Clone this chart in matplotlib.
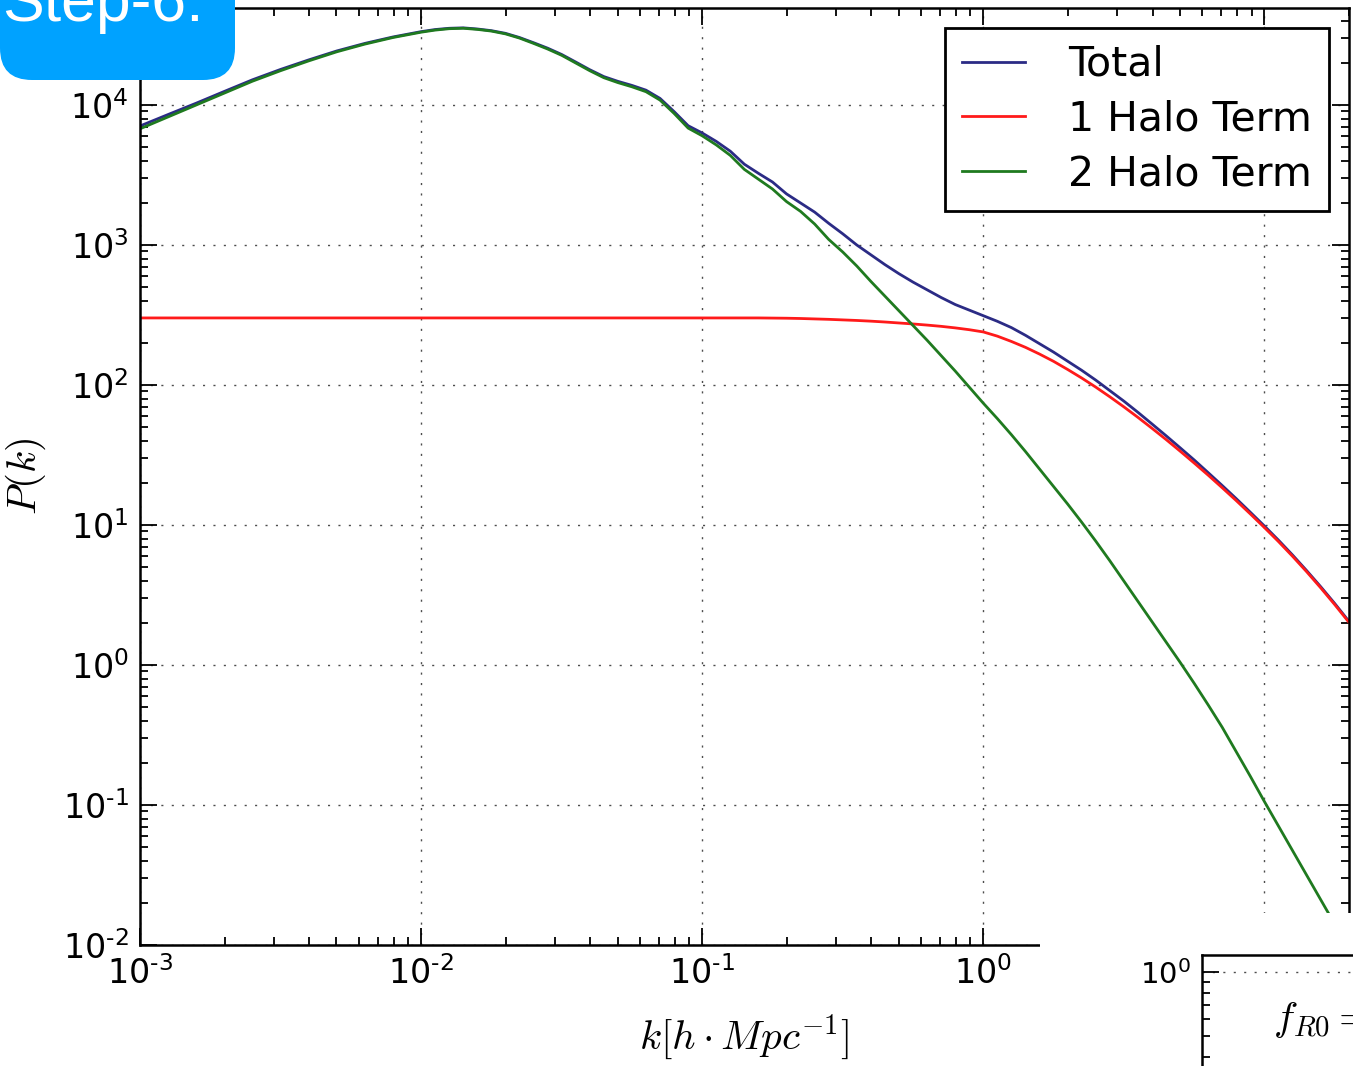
import math

import matplotlib

matplotlib.use("Agg")
import matplotlib.pyplot as plt
import numpy as np
from matplotlib.patches import FancyBboxPatch, Rectangle
from matplotlib.ticker import FuncFormatter, LogLocator

plt.rcParams["font.family"] = ["DejaVu Sans"]
plt.rcParams["mathtext.fontset"] = "cm"

# halo-model power spectrum, stored as log10 values
log10_k = [
    -3.0, -2.9, -2.8, -2.7, -2.6, -2.5, -2.4, -2.3, -2.2, -2.1,
    -2.0, -1.95, -1.9, -1.85, -1.8, -1.75, -1.7, -1.65, -1.6, -1.55,
    -1.5, -1.45, -1.4, -1.35, -1.3, -1.25, -1.2, -1.15, -1.1, -1.05,
    -1.0, -0.95, -0.9, -0.85, -0.8, -0.75, -0.7, -0.65, -0.6, -0.55,
    -0.5, -0.45, -0.4, -0.35, -0.3, -0.25, -0.2, -0.15, -0.1, -0.05,
    0.0, 0.05, 0.1, 0.15, 0.2, 0.25, 0.3, 0.35, 0.4, 0.45,
    0.5, 0.55, 0.6, 0.65, 0.7, 0.75, 0.8, 0.85, 0.9, 0.95,
    1.0, 1.05, 1.1, 1.15, 1.2, 1.25, 1.3,
]
log10_p_total = [
    3.85, 3.932, 4.013, 4.097, 4.18, 4.254, 4.322, 4.386, 4.44, 4.486,
    4.524, 4.539, 4.548, 4.551, 4.543, 4.531, 4.512, 4.482, 4.445, 4.406,
    4.361, 4.307, 4.252, 4.203, 4.169, 4.14, 4.106, 4.047, 3.953, 3.852,
    3.80, 3.74, 3.67, 3.577, 3.512, 3.45, 3.365, 3.30, 3.235, 3.155,
    3.08, 3.0, 2.93, 2.86, 2.795, 2.735, 2.68, 2.625, 2.575, 2.535,
    2.495, 2.455, 2.41, 2.355, 2.295, 2.235, 2.17, 2.105, 2.035, 1.96,
    1.885, 1.805, 1.722, 1.638, 1.552, 1.465, 1.374, 1.282, 1.188, 1.091,
    0.993, 0.892, 0.786, 0.675, 0.56, 0.44, 0.314,
]
log10_p_1halo = [
    2.479, 2.479, 2.479, 2.479, 2.479, 2.479, 2.479, 2.479, 2.479, 2.479,
    2.479, 2.479, 2.479, 2.479, 2.479, 2.479, 2.479, 2.479, 2.479, 2.479,
    2.479, 2.479, 2.479, 2.479, 2.479, 2.479, 2.479, 2.479, 2.479, 2.479,
    2.479, 2.479, 2.479, 2.479, 2.479, 2.478, 2.477, 2.475, 2.472, 2.469,
    2.465, 2.461, 2.456, 2.45, 2.443, 2.436, 2.428, 2.419, 2.408, 2.395,
    2.379, 2.349, 2.311, 2.269, 2.221, 2.169, 2.111, 2.05, 1.985, 1.916,
    1.844, 1.769, 1.691, 1.611, 1.528, 1.443, 1.356, 1.266, 1.174, 1.079,
    0.982, 0.882, 0.777, 0.667, 0.552, 0.432, 0.307,
]
log10_p_2halo = [
    3.83, 3.915, 4.00, 4.085, 4.17, 4.245, 4.315, 4.38, 4.435, 4.482,
    4.52, 4.535, 4.545, 4.548, 4.54, 4.528, 4.508, 4.478, 4.44, 4.40,
    4.355, 4.30, 4.245, 4.195, 4.16, 4.13, 4.095, 4.035, 3.94, 3.835,
    3.78, 3.715, 3.64, 3.54, 3.47, 3.40, 3.31, 3.24, 3.15, 3.04,
    2.95, 2.85, 2.74, 2.635, 2.53, 2.425, 2.32, 2.21, 2.10, 1.985,
    1.87, 1.76, 1.645, 1.525, 1.40, 1.275, 1.15, 1.02, 0.885, 0.745,
    0.60, 0.455, 0.31, 0.165, 0.02, -0.13, -0.285, -0.445, -0.62, -0.795,
    -0.975, -1.15, -1.325, -1.50, -1.675, -1.85, -2.025,
]

W, H = 1353, 1066
GRID_LS = (0, (1.5, 6))


def pow10(v, pos):
    e = int(round(math.log10(v)))
    s = str(e).replace("-", "\u2010")
    return r"$\mathdefault{10^{%s}}$" % s


def style_axis(ax, size=24):
    ax.tick_params(which="both", direction="in", top=True, right=True,
                   labelsize=size, width=1.3)
    ax.tick_params(which="major", length=12, pad=8)
    ax.tick_params(which="minor", length=6)
    for sp in ax.spines.values():
        sp.set_linewidth(1.8)


k = 10 ** np.array(log10_k)

fig = plt.figure(figsize=(W / 100, H / 100), dpi=100)
ax = fig.add_axes([140 / W, 1 - 945 / H, 1209 / W, 937 / H])
ax.set_xscale("log")
ax.set_yscale("log")
ax.plot(k, 10 ** np.array(log10_p_total), color="#2b2b85", lw=2,
        label="Total")
ax.plot(k, 10 ** np.array(log10_p_1halo), color="#ff1a1a", lw=2,
        label="1 Halo Term")
ax.plot(k, 10 ** np.array(log10_p_2halo), color="#1f7a1f", lw=2,
        label="2 Halo Term")
ax.set_xlim(1e-3, 20)
ax.set_ylim(1e-2, 4.93e4)
ax.xaxis.set_major_locator(LogLocator(base=10, numticks=20))
ax.yaxis.set_major_locator(LogLocator(base=10, numticks=20))
ax.xaxis.set_major_formatter(FuncFormatter(pow10))
ax.yaxis.set_major_formatter(FuncFormatter(pow10))
style_axis(ax)
ax.grid(True, which="major", color="0.3", lw=1, linestyle=GRID_LS)
ax.set_xlabel(r"$k[h \cdot Mpc^{-1}]$", fontsize=29.5, labelpad=16)
ax.set_ylabel(r"$P(k)$", fontsize=29.5, labelpad=11)
leg = ax.legend(loc="upper right", fontsize=29.5, handlelength=1.55,
                handletextpad=1.05, labelspacing=0.36, borderpad=0.4,
                fancybox=False, framealpha=1, edgecolor="k")
leg.get_frame().set_linewidth(2)

# overlay in pixel units: badge and the blank corner of the next panel
over = fig.add_axes([0, 0, 1, 1], zorder=5)
over.set_xlim(0, W)
over.set_ylim(H, 0)
over.axis("off")
over.add_patch(Rectangle((1040, 913), W - 1040, H - 913, facecolor="white",
                         edgecolor="none"))
over.add_patch(FancyBboxPatch((0, -60), 235, 140,
                              boxstyle="round,pad=0,rounding_size=32",
                              facecolor="#00a2ff", edgecolor="none"))
over.text(2, 21, "Step-6:", color="white", fontsize=45,
          family=["Liberation Sans", "DejaVu Sans"], va="baseline", ha="left")

# top-left corner of the neighbouring panel
sub = fig.add_axes([1202 / W, 1 - 955 / H - 231 / H, 300 / W, 231 / H],
                   zorder=6)
sub.set_yscale("log")
sub.set_ylim(0.1, 10 ** 0.0794)
sub.set_xticks([])
sub.yaxis.set_major_locator(LogLocator(base=10, numticks=10))
sub.yaxis.set_major_formatter(FuncFormatter(pow10))
style_axis(sub, size=21)
sub.tick_params(top=False)
sub.grid(True, axis="y", which="major", color="0.3", lw=1, linestyle=GRID_LS)
sub.text(1273 / W, 1 - 1020 / H, r"$f_{R0}=$", transform=fig.transFigure,
         fontsize=29.5, va="center", ha="left")

fig.savefig("out.png", dpi=100)
